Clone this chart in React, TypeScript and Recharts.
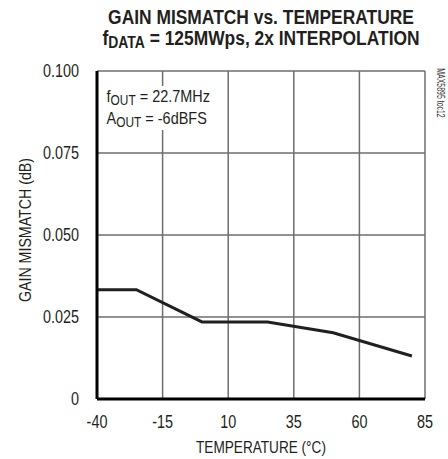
import React from 'react';
import { LineChart, Line, XAxis, YAxis, CartesianGrid } from 'recharts';

const temperatures = [-40, -25, 0, 25, 50, 80];
const gainMismatch = [0.0333, 0.0333, 0.0235, 0.0235, 0.0202, 0.0131];
const xTicks = [-40, -15, 10, 35, 60, 85];
const yTicks = [0, 0.025, 0.05, 0.075, 0.1];

const data = temperatures.map((t, i) => ({ temp: t, gain: gainMismatch[i] }));

const font = '"Liberation Sans", Arial, sans-serif';
const ink = '#231f20';

const fmtY = (v: number) => (v === 0 ? '0' : v.toFixed(3));

// no condensed font installed, so squeeze Liberation Sans horizontally
const NarrowTick = (props: any) => {
    const { x, y, payload, textAnchor, isY } = props;
    const label = isY ? fmtY(payload.value) : String(payload.value);
    return (
        <g transform={`translate(${x},${y})`}>
            <text transform="scale(0.8,1)" textAnchor={textAnchor} dy={isY ? '0.355em' : '0.71em'} fontSize={18} fontFamily={font} fill={ink}>
                {label}
            </text>
        </g>
    );
};

const squeeze = (s: number) => ({ transform: `scaleX(${s})`, transformOrigin: 'center' });

const App: React.FC = () => {
    return (
        <div style={{ position: 'absolute', left: 0, top: 0, width: 448, height: 459, background: '#fff', fontFamily: font, color: ink }}>
            <div style={{ position: 'absolute', left: 0, top: 7, width: 522, textAlign: 'center', fontWeight: 'bold', fontSize: 20, lineHeight: '21px', ...squeeze(0.87) }}>
                <div>GAIN MISMATCH vs. TEMPERATURE</div>
                <div>
                    f<span style={{ fontSize: 16, position: 'relative', top: 3 }}>DATA</span> = 125MWps, 2x INTERPOLATION
                </div>
            </div>

            <LineChart width={448} height={459} data={data} margin={{ top: 71, right: 23, bottom: 30, left: 0 }}>
                <CartesianGrid stroke="#6d6e71" strokeWidth={1.5} />
                <XAxis
                    dataKey="temp"
                    type="number"
                    domain={[-40, 85]}
                    ticks={xTicks}
                    height={30}
                    axisLine={{ stroke: '#000', strokeWidth: 3 }}
                    tickLine={false}
                    tickSize={0}
                    tickMargin={16}
                    tick={<NarrowTick />}
                />
                <XAxis xAxisId="top" orientation="top" dataKey="temp" type="number" domain={[-40, 85]} height={0} tick={false} tickLine={false} axisLine={{ stroke: '#000', strokeWidth: 3 }} />
                <YAxis
                    type="number"
                    domain={[0, 0.1]}
                    ticks={yTicks}
                    width={97}
                    axisLine={{ stroke: '#000', strokeWidth: 3 }}
                    tickLine={false}
                    tickSize={0}
                    tickMargin={18}
                    tick={<NarrowTick isY />}
                />
                <YAxis yAxisId="right" orientation="right" type="number" domain={[0, 0.1]} width={0} tick={false} tickLine={false} axisLine={{ stroke: '#000', strokeWidth: 3 }} />
                <Line type="linear" dataKey="gain" stroke={ink} strokeWidth={3} dot={false} isAnimationActive={false} />
            </LineChart>

            <div style={{ position: 'absolute', left: 104, top: 86, width: 130, fontSize: 17, lineHeight: '22px' }}>
                <div style={{ display: 'inline-block', background: '#fff', padding: '0 3px', transform: 'scaleX(0.85)', transformOrigin: 'left' }}>
                    <div>f<span style={{ fontSize: 14, position: 'relative', top: 3 }}>OUT</span> = 22.7MHz</div>
                    <div>A<span style={{ fontSize: 14, position: 'relative', top: 3 }}>OUT</span> = -6dBFS</div>
                </div>
            </div>

            <div style={{ position: 'absolute', left: 25 - 100, top: 230 - 10, width: 200, height: 20, lineHeight: '20px', textAlign: 'center', fontSize: 16.5, transform: 'rotate(-90deg) scaleX(0.86)' }}>
                GAIN MISMATCH (dB)
            </div>

            <div style={{ position: 'absolute', left: 0, top: 438, width: 522, textAlign: 'center', fontSize: 17, lineHeight: '20px', ...squeeze(0.8) }}>
                TEMPERATURE (°C)
            </div>

            <div style={{ position: 'absolute', left: 441 - 40, top: 93 - 7, width: 80, height: 14, lineHeight: '14px', textAlign: 'center', fontSize: 10.5, transform: 'rotate(90deg) scaleX(0.66)', color: '#333' }}>
                MAX5895 toc12
            </div>
        </div>
    );
};

export default App;
